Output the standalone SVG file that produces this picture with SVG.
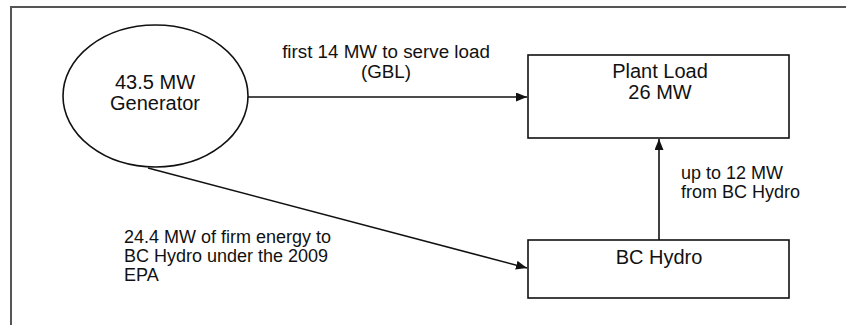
<svg xmlns="http://www.w3.org/2000/svg" width="846" height="325" viewBox="0 0 846 325">
<style>
.t{font-family:"Liberation Sans",Arial,sans-serif;font-size:18px;fill:#111}
.nt{font-size:20px}
.n{fill:#fff;stroke:#111;stroke-width:1.6}
.c{stroke:#111;stroke-width:1.6;fill:none}
</style>
<defs>
<marker id="ah" viewBox="0 0 10 10" refX="10" refY="5" markerWidth="11" markerHeight="9" markerUnits="userSpaceOnUse" orient="auto" preserveAspectRatio="none">
<path d="M0,0 L10,5 L0,10 z" fill="#111"/>
</marker>
</defs>
<rect width="846" height="325" fill="#fff"/>
<path d="M11,325 V7 H846" fill="none" stroke="#555" stroke-width="2"/>
<g id="connectors">
<line class="c" x1="248" y1="97" x2="527" y2="97" marker-end="url(#ah)"/>
<line class="c" x1="148" y1="168" x2="527" y2="268" marker-end="url(#ah)"/>
<line class="c" x1="659" y1="240" x2="659" y2="139" marker-end="url(#ah)"/>
<text class="t" x="386" y="58" text-anchor="middle" style="font-size:18.8px">first 14 MW to serve load</text>
<text class="t" x="386" y="78" text-anchor="middle" style="font-size:18.8px">(GBL)</text>
<text class="t" x="681" y="179">up to 12 MW</text>
<text class="t" x="681" y="198">from BC Hydro</text>
<text class="t" x="124" y="243">24.4 MW of firm energy to</text>
<text class="t" x="124" y="262">BC Hydro under the 2009</text>
<text class="t" x="124" y="281">EPA</text>
</g>
<g id="generator">
<ellipse class="n" cx="155.5" cy="96" rx="92.5" ry="71"/>
<text class="t nt" x="155" y="89" text-anchor="middle">43.5 MW</text>
<text class="t nt" x="155" y="110" text-anchor="middle">Generator</text>
</g>
<g id="plant-load">
<rect class="n" x="528" y="55" width="261" height="83"/>
<text class="t nt" x="660" y="78" text-anchor="middle">Plant Load</text>
<text class="t nt" x="660" y="99" text-anchor="middle">26 MW</text>
</g>
<g id="bc-hydro">
<rect class="n" x="528" y="240" width="261" height="58"/>
<text class="t nt" x="659" y="264" text-anchor="middle">BC Hydro</text>
</g>
</svg>
